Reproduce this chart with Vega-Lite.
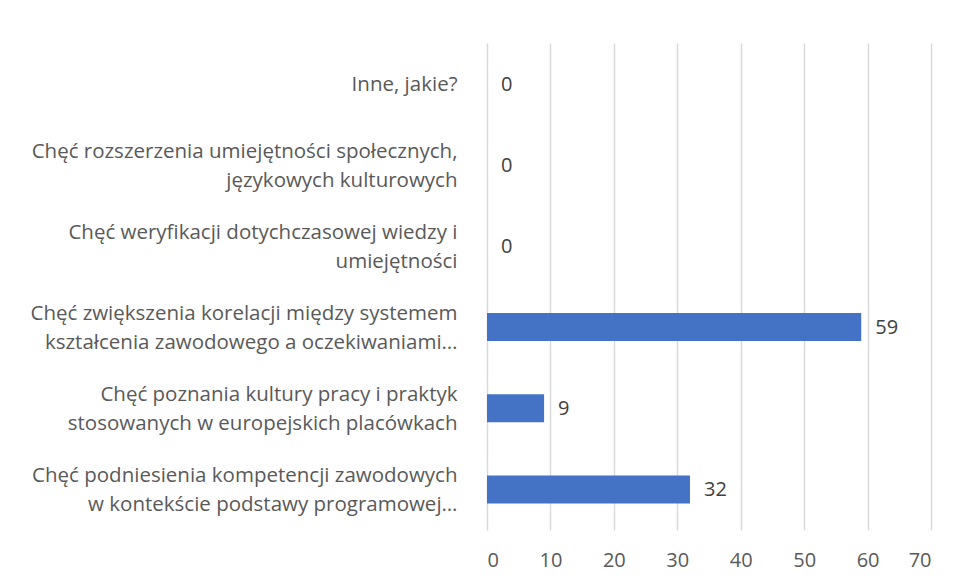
{
  "$schema": "https://vega.github.io/schema/vega-lite/v6.json",
  "width": 444,
  "height": 487,
  "autosize": "none",
  "padding": {"left": 487, "top": 43, "right": 27, "bottom": 53},
  "background": "white",
  "config": {
    "view": {"stroke": null},
    "font": "Open Sans"
  },
  "data": {
    "values": [
      {"kategoria": "Inne, jakie?", "wartosc": 0},
      {"kategoria": "Chęć rozszerzenia umiejętności społecznych,|językowych kulturowych", "wartosc": 0},
      {"kategoria": "Chęć weryfikacji dotychczasowej wiedzy i|umiejętności", "wartosc": 0},
      {"kategoria": "Chęć zwiększenia korelacji między systemem|kształcenia zawodowego a oczekiwaniami…", "wartosc": 59},
      {"kategoria": "Chęć poznania kultury pracy i praktyk|stosowanych w europejskich placówkach", "wartosc": 9},
      {"kategoria": "Chęć podniesienia kompetencji zawodowych|w kontekście podstawy programowej…", "wartosc": 32}
    ]
  },
  "encoding": {
    "y": {
      "field": "kategoria",
      "type": "nominal",
      "sort": null,
      "scale": {"paddingInner": 0.655, "paddingOuter": 0.3275},
      "axis": {
        "title": null,
        "domain": false,
        "ticks": false,
        "labelPadding": 30,
        "labelExpr": "split(datum.label, '|')",
        "labelOffset": {"condition": {"test": "indexof(datum.value, '|') >= 0", "value": -13}, "value": 1.5},
        "labelFontSize": 20.5,
        "labelLineHeight": 29,
        "labelColor": "#595959",
        "labelFont": "Open Sans",
        "labelLimit": 480
      }
    },
    "x": {
      "field": "wartosc",
      "type": "quantitative",
      "scale": {"domain": [0, 70], "nice": false},
      "axis": {
        "title": null,
        "values": [0, 10, 20, 30, 40, 50, 60, 70],
        "domain": false,
        "ticks": false,
        "grid": true,
        "gridColor": "#d9d9d9",
        "gridWidth": 1.5,
        "labelPadding": 20,
        "labelFontSize": 20,
        "labelColor": "#595959",
        "labelFont": "Open Sans"
      }
    }
  },
  "layer": [
    {"mark": {"type": "bar", "color": "#4472c4"}},
    {
      "mark": {"type": "text", "align": "left", "baseline": "middle", "dx": 14, "dy": 1, "fontSize": 20, "color": "#404040", "font": "Open Sans"},
      "encoding": {"text": {"field": "wartosc", "type": "quantitative"}}
    }
  ]
}
